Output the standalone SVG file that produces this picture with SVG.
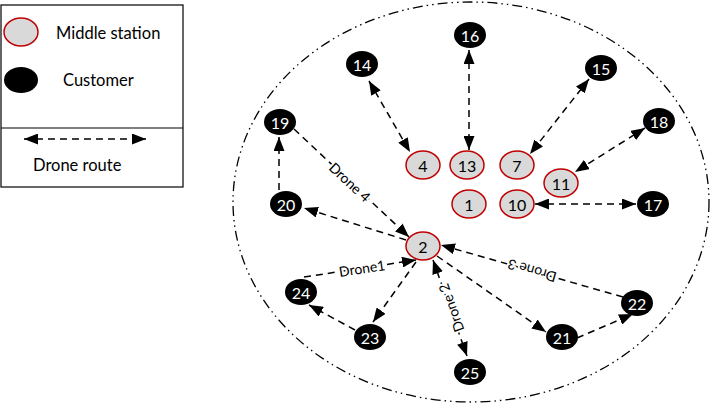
<svg xmlns="http://www.w3.org/2000/svg" width="710" height="404" viewBox="0 0 710 404">
<defs>
<marker id="ah" viewBox="0 0 14 11" refX="14" refY="5.5" markerUnits="userSpaceOnUse" markerWidth="14" markerHeight="11" orient="auto-start-reverse">
<path d="M0,0 L14,5.5 L0,11 z" fill="#000"/>
</marker>
<style>
.ms{fill:#d9d9d9;stroke:#c00000;stroke-width:1.5}
.cu{fill:#000}
.t{font-family:Lato,"Open Sans",sans-serif;font-size:16px;text-anchor:middle;dominant-baseline:central}
.tw{fill:#fff}
.tb{fill:#000}
.c{fill:none;stroke:#000;stroke-width:1.5;stroke-dasharray:7 5}
.one{marker-end:url(#ah)}
.two{marker-start:url(#ah);marker-end:url(#ah)}
.lab{font-family:Lato,"Open Sans",sans-serif;font-size:14px;text-anchor:middle;dominant-baseline:central;fill:#000;stroke:#fff;stroke-width:4;paint-order:stroke;stroke-linejoin:round}
.lg{font-family:Lato,"Open Sans",sans-serif;font-size:16.5px;fill:#000}
</style>
</defs>
<rect width="710" height="404" fill="#fff"/>
<g id="legend">
<rect x="1" y="5" width="182" height="182" fill="none" stroke="#000" stroke-width="1.2"/>
<line x1="1" y1="128" x2="183" y2="128" stroke="#000" stroke-width="1.2"/>
<ellipse cx="21" cy="32" rx="17" ry="14" class="ms"/>
<text x="56" y="39" class="lg">Middle station</text>
<ellipse cx="21" cy="80" rx="17" ry="13" class="cu"/>
<text x="63" y="86" class="lg">Customer</text>
<line x1="24" y1="139" x2="146" y2="139" class="c two"/>
<text x="33" y="171" class="lg">Drone route</text>
</g>
<ellipse id="region" cx="471" cy="202" rx="238" ry="200" fill="none" stroke="#000" stroke-width="1.3" stroke-dasharray="10 4 1.5 4 1.5 4"/>
<g id="connectors">
<line x1="369" y1="81" x2="410" y2="152" class="c two"/>
<line x1="469" y1="50" x2="469" y2="150" class="c two"/>
<line x1="589" y1="79" x2="530" y2="154" class="c two"/>
<line x1="645" y1="128" x2="575" y2="172" class="c two"/>
<line x1="535" y1="204" x2="636" y2="204" class="c two"/>
<line x1="294" y1="129" x2="409" y2="237" class="c one"/>
<line x1="406" y1="240" x2="304" y2="208" class="c one"/>
<line x1="279" y1="190" x2="279" y2="137" class="c one"/>
<line x1="304" y1="277" x2="416" y2="260" class="c one"/>
<line x1="416" y1="262" x2="373" y2="322" class="c one"/>
<line x1="355" y1="330" x2="309" y2="305" class="c one"/>
<line x1="433" y1="260" x2="467" y2="356" class="c two"/>
<line x1="437" y1="256" x2="546" y2="332" class="c one"/>
<line x1="577" y1="338" x2="633" y2="314" class="c one"/>
<line x1="623" y1="297" x2="441" y2="245" class="c one"/>
<text class="lab" transform="translate(350,182) rotate(43)">Drone 4</text>
<text class="lab" transform="translate(362,268) rotate(-8.6)">Drone1</text>
<text class="lab" transform="translate(451,308) rotate(-109.5)">Drone 2</text>
<text class="lab" transform="translate(532,271) rotate(196)">Drone 3</text>
</g>
<g id="n1"><ellipse cx="469" cy="204" rx="17" ry="14" class="ms"/><text x="469" y="204" class="t tb">1</text></g>
<g id="n2"><ellipse cx="423" cy="246" rx="17" ry="14" class="ms"/><text x="423" y="246" class="t tb">2</text></g>
<g id="n4"><ellipse cx="423" cy="165" rx="17" ry="14" class="ms"/><text x="423" y="165" class="t tb">4</text></g>
<g id="n7"><ellipse cx="517" cy="165" rx="17" ry="14" class="ms"/><text x="517" y="165" class="t tb">7</text></g>
<g id="n10"><ellipse cx="517" cy="204" rx="17" ry="14" class="ms"/><text x="517" y="204" class="t tb">10</text></g>
<g id="n11"><ellipse cx="561" cy="183" rx="17" ry="14" class="ms"/><text x="561" y="183" class="t tb">11</text></g>
<g id="n13"><ellipse cx="467" cy="165" rx="17" ry="14" class="ms"/><text x="467" y="165" class="t tb">13</text></g>
<g id="n14"><ellipse cx="362" cy="64" rx="16" ry="13" class="cu"/><text x="362" y="64" class="t tw">14</text></g>
<g id="n15"><ellipse cx="601" cy="68" rx="16" ry="13" class="cu"/><text x="601" y="68" class="t tw">15</text></g>
<g id="n16"><ellipse cx="470" cy="35" rx="16" ry="13" class="cu"/><text x="470" y="35" class="t tw">16</text></g>
<g id="n17"><ellipse cx="653" cy="204" rx="16" ry="13" class="cu"/><text x="653" y="204" class="t tw">17</text></g>
<g id="n18"><ellipse cx="659" cy="121" rx="16" ry="13" class="cu"/><text x="659" y="121" class="t tw">18</text></g>
<g id="n19"><ellipse cx="280" cy="122" rx="16" ry="13" class="cu"/><text x="280" y="122" class="t tw">19</text></g>
<g id="n20"><ellipse cx="286" cy="204" rx="16" ry="13" class="cu"/><text x="286" y="204" class="t tw">20</text></g>
<g id="n21"><ellipse cx="562" cy="337" rx="16" ry="13" class="cu"/><text x="562" y="337" class="t tw">21</text></g>
<g id="n22"><ellipse cx="637" cy="303" rx="16" ry="13" class="cu"/><text x="637" y="303" class="t tw">22</text></g>
<g id="n23"><ellipse cx="370" cy="337" rx="16" ry="13" class="cu"/><text x="370" y="337" class="t tw">23</text></g>
<g id="n24"><ellipse cx="301" cy="292" rx="16" ry="13" class="cu"/><text x="301" y="292" class="t tw">24</text></g>
<g id="n25"><ellipse cx="470" cy="372" rx="16" ry="13" class="cu"/><text x="470" y="372" class="t tw">25</text></g>
</svg>
